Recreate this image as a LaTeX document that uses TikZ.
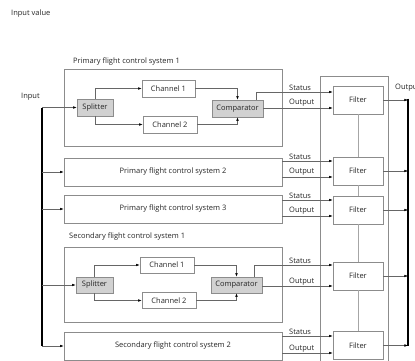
\documentclass[tikz,border=0pt]{standalone}
\usepackage{fontspec}
\setmainfont{Open Sans}
\usetikzlibrary{arrows.meta,calc}
\begin{document}
\begin{tikzpicture}[x=1pt,y=-1pt,
  every node/.style={font=\fontsize{7.5}{9}\selectfont, text=black!85},
  sysbox/.style={draw=black!45, line width=0.6pt, inner sep=0pt},
  graybox/.style={sysbox, fill=black!18},
  conn/.style={draw=black!60, line width=0.5pt, -{Latex[length=3.6pt,width=2.6pt,color=black]}},
  plain/.style={draw=black!60, line width=0.5pt},
  bus/.style={draw=black, line width=1.6pt},
  lbl/.style={anchor=south west, inner sep=1pt}]
\useasboundingbox (0,0) rectangle (415,361);

% labels
\node[anchor=west, inner sep=0pt] (inval) at (11,14) {Input value};
\node[anchor=west, inner sep=0pt] (inlbl) at (21,97) {Input};
\node[anchor=west, inner sep=0pt] (outlbl) at (395,88) {Output};
\node[anchor=west, inner sep=0pt] (p1lbl) at (73,62) {Primary flight control system 1};
\node[anchor=west, inner sep=0pt] (s1lbl) at (69,237) {Secondary flight control system 1};

% filter column
\draw[draw=black!45, line width=0.6pt] (320,365) -- (320,76) -- (388,76) -- (388,365);

% primary 1
\node[sysbox, minimum width=218pt, minimum height=77pt] (p1) at (173,107.5) {};
\node[graybox, minimum width=36pt, minimum height=17pt] (sp1) at (95,107.5) {Splitter};
\node[sysbox, minimum width=53pt, minimum height=17pt] (c1a) at (168.5,88.5) {Channel 1};
\node[sysbox, minimum width=54pt, minimum height=17pt] (c2a) at (170,124.5) {Channel 2};
\node[graybox, minimum width=51pt, minimum height=17pt] (cmp1) at (237.5,108.5) {Comparator};

% primary 2, 3
\node[sysbox, minimum width=218pt, minimum height=28pt] (p2) at (173,172) {Primary flight control system 2};
\node[sysbox, minimum width=218pt, minimum height=28pt] (p3) at (173,209) {Primary flight control system 3};

% secondary 1
\node[sysbox, minimum width=218pt, minimum height=75pt] (s1) at (173,284.5) {};
\node[graybox, minimum width=37pt, minimum height=16pt] (sp2) at (94.5,285) {Splitter};
\node[sysbox, minimum width=54pt, minimum height=16pt] (c1b) at (167,265) {Channel 1};
\node[sysbox, minimum width=54pt, minimum height=16pt] (c2b) at (169,300.5) {Channel 2};
\node[graybox, minimum width=51pt, minimum height=16pt] (cmp2) at (236.5,285) {Comparator};

% secondary 2
\node[sysbox, minimum width=218pt, minimum height=28pt] (s2) at (173,346) {Secondary flight control system 2};

% filters
\foreach \n/\y in {1/100,2/171,3/210,4/276,5/345.5}
  \node[sysbox, minimum width=50pt, minimum height=28pt] (f\n) at (358,\y) {Filter};
\draw[draw=black!35, line width=0.6pt] (f1.south) -- (f2.north) (f2.south) -- (f3.north) (f3.south) -- (f4.north) (f4.south) -- (f5.north);

% input bus
\coordinate (ibt) at (42,107.5);
\coordinate (ibb) at (42,346);
\draw[bus] (ibt) -- (ibb);
\draw[conn] (ibt) -- (sp1.west);
\draw[conn] (ibt |- p2.west) -- (p2.west);
\draw[conn] (ibt |- p3.west) -- (p3.west);
\draw[conn] (ibt |- sp2.west) -- (sp2.west);
\draw[conn] (ibb) -- (s2.west);

% internals primary 1
\draw[conn] (sp1.north) |- (c1a.west);
\draw[conn] (sp1.south) |- (c2a.west);
\draw[conn] (c1a.east) -| (cmp1.north);
\draw[conn] (c2a.east) -| (cmp1.south);
% internals secondary 1
\draw[conn] (sp2.north) |- (c1b.west);
\draw[conn] (sp2.south) |- (c2b.west);
\draw[conn] (c1b.east) -| (cmp2.north);
\draw[conn] (c2b.east) -| (cmp2.south);

% status / output to filters
\coordinate (f1s) at ([yshift=8pt]f1.west);
\coordinate (f1o) at ([yshift=-8pt]f1.west);
\draw[conn] ([xshift=-7pt]cmp1.north east) |- (f1s);
\draw[conn] (cmp1.east |- f1o) -- (f1o);
\node[lbl] (st1) at (288,92) {Status};
\node[lbl] (ou1) at (288,108) {Output};

\coordinate (f2s) at ([yshift=10pt]f2.west);
\coordinate (f2o) at ([yshift=-6pt]f2.west);
\draw[conn] (p2.east |- f2s) -- (f2s);
\draw[conn] (p2.east |- f2o) -- (f2o);
\node[lbl] (st2) at (288,161) {Status};
\node[lbl] (ou2) at (288,177) {Output};

\coordinate (f3s) at ([yshift=10pt]f3.west);
\coordinate (f3o) at ([yshift=-6pt]f3.west);
\draw[conn] (p3.east |- f3s) -- (f3s);
\draw[conn] (p3.east |- f3o) -- (f3o);
\node[lbl] (st3) at (288,200) {Status};
\node[lbl] (ou3) at (288,216) {Output};

\coordinate (f4s) at ([yshift=11pt]f4.west);
\coordinate (f4o) at ([yshift=-10pt]f4.west);
\draw[conn] ([xshift=-8pt]cmp2.north east) |- (f4s);
\draw[conn] (cmp2.east |- f4o) -- (f4o);
\node[lbl] (st4) at (288,265) {Status};
\node[lbl] (ou4) at (288,286) {Output};

\coordinate (f5s) at ([yshift=9.5pt]f5.west);
\coordinate (f5o) at ([yshift=-7.5pt]f5.west);
\draw[conn] (s2.east |- f5s) -- (f5s);
\draw[conn] (s2.east |- f5o) -- (f5o);
\node[lbl] (st5) at (288,336) {Status};
\node[lbl] (ou5) at (288,353) {Output};

% output bus
\coordinate (obt) at (408,98.5);
\coordinate (obb) at (408,346);
\draw[bus] (obt) -- (obb);
\foreach \n in {1,...,5}
  \draw[conn] (f\n.east) -- (f\n.east -| obt);
\end{tikzpicture}
\end{document}
